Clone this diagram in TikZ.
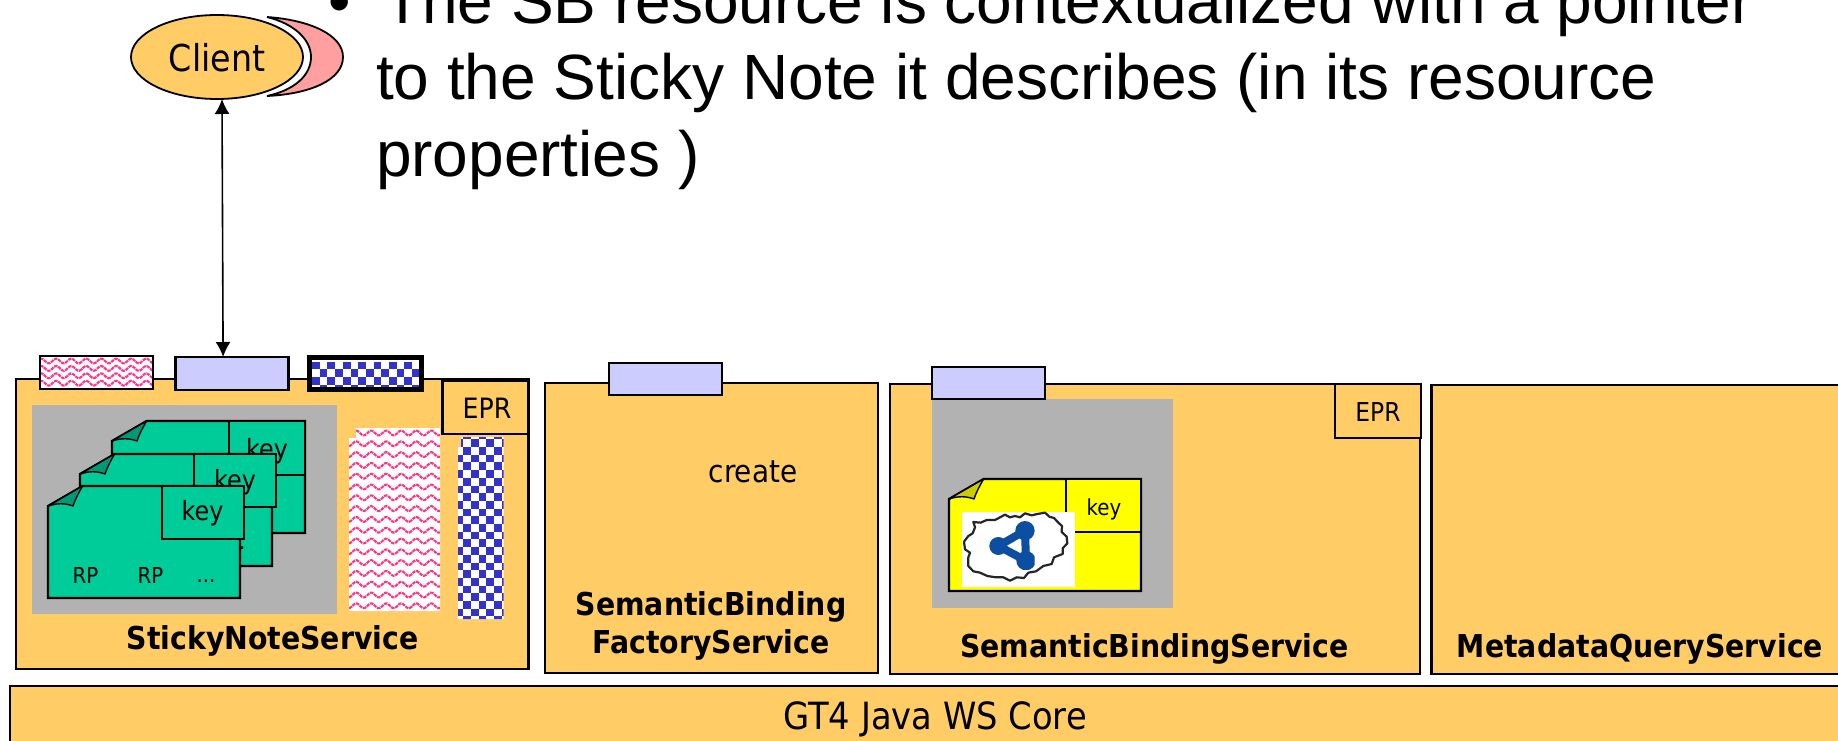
\documentclass[tikz,border=0pt]{standalone}
\usepackage{fontspec}
\setmainfont{Liberation Sans}
\newfontfamily\tah[FakeStretch=0.9]{DejaVu Sans}
\usetikzlibrary{shapes.geometric,arrows.meta}
\definecolor{svc}{HTML}{FFCC66}
\definecolor{port}{HTML}{CCCCFF}
\definecolor{graybg}{HTML}{B2B2B2}
\definecolor{green1}{HTML}{00CC99}
\definecolor{green2}{HTML}{009977}
\definecolor{pinkw}{HTML}{FF3388}
\definecolor{bluec}{HTML}{3333CC}
\definecolor{moon}{HTML}{FF9F9F}
\definecolor{yel}{RGB}{255,255,0}
\definecolor{yellowf}{HTML}{CCCC00}
\definecolor{icon}{HTML}{0B4EA2}
\tikzset{
  rectn/.style={draw=black,line width=2.4,inner sep=0,outer sep=0,font=\tah},
  svcbox/.style={rectn,fill=svc},
  portbox/.style={rectn,fill=port},
  plainlab/.style={inner sep=0,outer sep=0,font=\tah\fontsize{#1}{#1}\selectfont},
  boldlab/.style={inner sep=0,outer sep=0,align=center,font=\tah\bfseries\fontsize{31.5}{38}\selectfont},
  bodyline/.style={anchor=base west,inner sep=0,outer sep=0,font=\fontsize{64}{64}\selectfont},
}
% \rectnode{style}{name}{x0}{y0}{x1}{y1}{text}
\newcommand\rectnode[7]{\node[#1,minimum width={#5-#3},minimum height={#6-#4}] (#2) at ({(#3+#5)/2},{(#4+#6)/2}) {#7};}
% waves in a box
\newcommand\wavesin[5]{%
  \pgfmathsetmacro\ylast{#4}%
  \pgfmathsetmacro\ysecond{#2+#5}%
  \foreach \yy in {#2,\ysecond,...,\ylast}{%
    \draw[pinkw,line width=2.1,dash pattern=on 3.5 off 0.8] plot[domain=#1:#3,samples=90,smooth] (\x,{\yy+2.4*sin(24*\x)});
  }}
\newcommand\checksin[2]{%
  \foreach \ii in {0,...,15}{\foreach \jj in {0,...,26}{%
    \pgfmathparse{int(mod(\ii+\jj,2))}%
    \ifnum\pgfmathresult=0
      \fill[bluec] ({#1+\ii*7.7},{#2+\jj*7.7}) rectangle ++(7.7,7.7);
    \fi}}}
% \sheet{name}{x}{y}{w}{fill}{fold}
\newcommand\sheet[6]{%
  \draw[line width=2.2,fill=#5,line join=miter] (#2,#3+20) -- (#2+34.6,#3) -- (#2+#4,#3) -- (#2+#4,#3+112) -- (#2,#3+112) -- cycle;
  \draw[line width=1.4,fill=#6,line join=round] (#2,#3+20) .. controls (#2+9,#3+17) and (#2+17,#3+17) .. (#2+25,#3+20) .. controls (#2+27,#3+14) and (#2+30,#3+8) .. (#2+34.6,#3) -- cycle;
  \coordinate (#1) at (#2,#3);
}
\begin{document}
\begin{tikzpicture}[x=1pt,y=-1pt]
\clip (0,0) rectangle (1838,741);
\fill[white] (0,0) rectangle (1838,741);

% top text
\node[bodyline] (bul) at (328,24) {•};
\node[bodyline] (l1) at (383,24) {The SB resource is contextualized with a pointer};
\node[bodyline] (l2) at (376,100) {to the Sticky Note it describes (in its resource};
\node[bodyline] (l3) at (376,176) {properties )};

% client
\draw[line width=1.8,fill=moon] (267,17) .. controls (310,20) and (343,35) .. (343,57) .. controls (343,80) and (310,94) .. (267,96) .. controls (295,90) and (311,75) .. (311,57) .. controls (311,40) and (295,24) .. (267,17) -- cycle;
\node[ellipse,draw=black,line width=1.8,fill=svc,minimum width=172,minimum height=84,inner sep=0,outer sep=0] (client) at (217,57) {};
\node[plainlab=37] (clientl) at (217,58) {Client};

% bottom bar
\rectnode{svcbox}{core}{10}{686}{1900}{780}{}
\node[plainlab=37.5] (corelab) at (935,719) {GT4 Java WS Core};

% StickyNoteService
\rectnode{svcbox}{sns}{16}{379}{528.5}{669}{}
\rectnode{rectn,fill=white}{p1}{40}{356}{153}{389}{}
\begin{scope}
  \clip (41.2,357.2) rectangle (151.8,387.8);
  \wavesin{40}{361}{153}{390}{7.4}
\end{scope}
\rectnode{portbox}{p2}{175.6}{357}{288.6}{390}{}
\node[draw=black,fill=white,line width=5,inner sep=0,outer sep=0,minimum width=112.5,minimum height=32] (p3) at (365.3,373.5) {};
\begin{scope}
  \clip (312,361) rectangle (419,386);
  \checksin{312}{361.5}
\end{scope}
\rectnode{svcbox}{epr1}{442.5}{381}{528}{434}{}
\node[plainlab=28] (eprl1) at (487,408) {EPR};
\fill[graybg] (32,405) rectangle (337,614);
% back sheet
\sheet{nb}{112}{421}{193}{green1}{green2}
\rectnode{rectn,fill=green1}{kb}{229}{421}{305}{475}{}
\node[plainlab=26.5] (kbl) at (267,451) {key};
% middle sheet
\sheet{nm}{80}{454}{192}{green1}{green2}
\rectnode{rectn,fill=green1}{km}{194}{454}{276}{507}{}
\node[plainlab=26.5] (kml) at (235,482) {key};
\node[plainlab=22,anchor=base] (dm) at (236,549) {...};
% front sheet
\sheet{nf}{48}{486}{192}{green1}{green2}
\rectnode{rectn,fill=green1}{kf}{162}{486}{244}{539}{}
\node[plainlab=26.5] (kfl) at (202.5,513) {key};
\node[plainlab=22] (rp1) at (85.5,575) {RP};
\node[plainlab=22] (rp2) at (150.5,575) {RP};
\node[plainlab=22,anchor=base] (dots) at (206,582) {...};
% state blocks
\begin{scope}
  \clip (356,428) -- (440,428) -- (440,611) -- (349,611) -- (349,438) -- (356,438) -- cycle;
  \fill[white] (340,420) rectangle (445,620);
  \wavesin{349}{433}{440}{612}{10.8}
\end{scope}
\begin{scope}
  \clip (461,437) -- (503.5,437) -- (503.5,619) -- (458,619) -- (458,447) -- (461,447) -- cycle;
  \fill[white] (450,430) rectangle (510,625);
  \checksin{455.6}{423.9}
\end{scope}
\node[boldlab] (snsl) at (272.5,641) {StickyNoteService};

% Factory
\rectnode{svcbox}{fac}{545}{383}{878}{673}{}
\rectnode{portbox}{p4}{609}{363}{722}{395}{}
\node[plainlab=31] (cr) at (753,472) {create};
\node[boldlab] (facl) at (711,626) {SemanticBinding\\FactoryService};

% SemanticBindingService
\rectnode{svcbox}{sb}{890}{384}{1420}{674}{}
\fill[graybg] (932,399) rectangle (1173,608);
\rectnode{portbox}{p5}{932}{367}{1045}{399}{}
\rectnode{svcbox}{epr2}{1334.7}{384}{1421}{438}{}
\node[plainlab=26] (eprl2) at (1378,412) {EPR};
\sheet{ny}{949}{479}{192}{yel}{yellowf}
\rectnode{rectn,fill=yel}{ky}{1066}{479}{1141}{532}{}
\node[plainlab=22] (kyl) at (1104,509) {key};
\fill[white] (962,512) rectangle (1075,587);
\begin{scope}[shift={(950,500)},x=.3333pt,y=-.3333pt]
  \draw[line width=2.2,black!85,line join=round] plot coordinates {(42,125)(55,108)(68,100)(75,82)(70,66)(92,68)(110,60)(135,60)(150,52)(165,44)(180,52)(195,48)(210,52)(225,40)(245,46)(262,42)(285,38)(298,50)(312,54)(325,68)(336,78)(335,96)(350,110)(352,130)(338,145)(338,162)(312,172)(305,192)(280,198)(258,214)(235,218)(222,234)(200,232)(180,242)(160,232)(138,232)(112,228)(90,218)(70,214)(55,198)(55,172)(60,158)(45,148)(42,125)};
  \begin{scope}
    \clip (100,50) rectangle (254,208);
    \draw[icon,line width=8] (145,138) -- (225,92) -- (228,182) -- cycle;
    \fill[icon] (145,138) circle (27);
    \fill[icon] (225,92) circle (29);
    \fill[icon] (228,182) circle (29);
  \end{scope}
\end{scope}
\node[boldlab] (sbl) at (1154.5,649) {SemanticBindingService};

% Metadata
\rectnode{svcbox}{mq}{1431.6}{385}{1900}{674}{}
\node[boldlab] (mql) at (1640,649) {MetadataQueryService};

% connector
\draw[{Latex[length=15,width=15]}-{Latex[length=15,width=15]},line width=1.6] ([xshift=5]client.south) -- ([xshift=47.5]p2.north west);
\end{tikzpicture}
\end{document}
